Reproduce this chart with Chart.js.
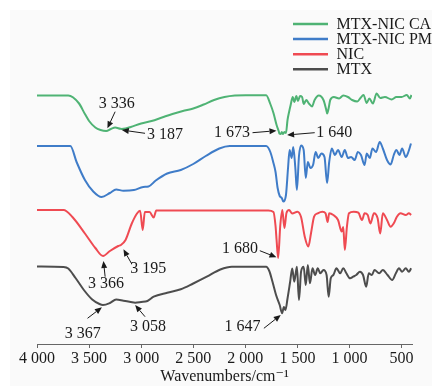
<!DOCTYPE html>
<html>
<head>
<meta charset="utf-8">
<script src="https://cdn.jsdelivr.net/npm/chart.js@4"></script>
<style>body{margin:0;background:#fff}</style>
</head>
<body>
<canvas id="myChart" width="432" height="386"></canvas>
<script>
// wavenumbers (cm-1) and offset depth (bigger = lower on chart)
let caWave = [4000,3700,3600,3540,3500,3440,3390,3336,3290,3250,3200,3187,3150,3100,3000,2900,2800,2700,2600,2500,2400,2300,2200,2100,2000,1800,1760,1730,1700,1680,1673,1660,1650,1640,1625,1610,1595,1580,1565,1545,1530,1510,1495,1475,1455,1440,1415,1390,1360,1335,1295,1250,1225,1215,1200,1185,1150,1100,1060,1015,975,925,895,865,835,810,775,740,705,660,595,550,500,450,420,405];
let caVal = [95.5,95.5,103,114,121,127.5,130,131,129,127.5,128.8,129,128.5,127,123.5,121,117.5,114,111,108.5,104.5,100,97,95.5,95.2,95.3,104,113,125,131,133.5,134,132,134,132,133,120,112,105,97,102,96,101,96,97,104,100,103.5,106.5,100,95.5,100,109,113.5,108,100,97,98.5,95.5,97,100,101.5,98,95,103,98.5,103.5,93.5,98,97,99.5,97,97,95,98.5,95];

let pmWave = [4000,3680,3620,3540,3460,3380,3300,3240,3170,3070,2980,2930,2860,2750,2620,2500,2380,2250,2150,1800,1760,1730,1710,1690,1670,1650,1635,1610,1590,1575,1555,1540,1520,1505,1485,1465,1440,1420,1400,1375,1350,1325,1300,1270,1240,1215,1195,1170,1140,1110,1075,1045,1015,985,950,920,890,855,835,805,780,745,710,680,640,605,575,550,520,495,460,435,410];
let pmVal = [146,146,162,180,191.5,197,193,189.5,190.7,190,187,186.5,180.5,173.5,170,164,156,148.5,146,146,152,163,172,188,196,198,201.5,195,168,150,158,147,168,190,156,145.5,150,178,162,168,165,152,158,153.5,157,183,162,148.5,155,150,157,150,158,157,160,152,155,165,153.5,158,148.5,152,142,148.5,160,164.5,155,150,155,148.5,157,152,143.5];

let nicWave = [4000,3745,3660,3540,3440,3366,3300,3220,3195,3150,3090,3040,3010,2985,2965,2920,2880,2855,1780,1730,1710,1700,1685,1665,1645,1625,1605,1580,1550,1500,1465,1430,1395,1370,1340,1305,1260,1230,1210,1195,1155,1110,1075,1060,1045,1025,1005,960,915,880,855,825,800,765,730,705,680,640,605,575,545,510,460,430,408];
let nicVal = [210,210,217,233.5,248,256,251,246,245,240,223.5,213.5,210.7,230,212,212,217.5,210.5,210.5,212,226,240,258,226,210,228,213,210,213.5,211.7,217,236.5,246.5,233.5,216.7,213.3,211.7,213.3,222,213.3,215,220,231.5,227,250,227,213.3,211.7,212.7,220,213.3,215,223.5,213.3,218.3,233.5,213.3,220,226.7,223.3,216.7,213.3,215,213.3,215];

let mtxWave = [4000,3745,3700,3630,3550,3470,3400,3367,3300,3240,3170,3100,3058,3000,2940,2880,2750,2620,2500,2370,2240,2130,1800,1770,1740,1705,1670,1647,1630,1615,1595,1570,1550,1530,1505,1485,1465,1440,1420,1400,1380,1355,1330,1305,1280,1250,1220,1200,1180,1155,1125,1090,1060,1030,995,965,935,900,870,840,815,785,760,715,680,635,590,555,525,495,460,430,408];
let mtxVal = [266.5,267,268.5,278,290,299.5,304,305,303,299.5,300.7,302,302.7,302,301,296.7,292.7,289.3,283.5,276.7,269.5,266.7,266.7,271,281.5,295,305,313.3,307,310,298.5,282,268.5,281.7,266.7,300,271.7,266.7,285,265,283.3,268.3,275,268.3,273.3,270,275,296.7,278.3,275,268.3,273.3,268.3,273.3,278.3,276.7,275,271.7,275,286.7,273.3,275,270,273.3,270,275,280,273.3,268.3,271.7,268.3,271.7,268.3];

let seriesNames = ["MTX-NIC CA", "MTX-NIC PM", "NIC", "MTX"];
let seriesColors = ["#4fb374", "#3f7cc8", "#ef4a52", "#4d4d4d"];
let tickValues = [4000, 3500, 3000, 2500, 2000, 1500, 1000, 500];

// peak labels: text, label point, arrow start, arrow end (wavenumber, depth)
let peakLabels = [
    ["3 336", 3234, 104, 3250, 111.7, 3324, 128.3],
    ["3 187", 2771, 135, 2963, 133.3, 3186, 130],
    ["1 673", 2129, 132.7, 1931, 132.7, 1701, 130.7],
    ["1 640", 1147, 132.7, 1334, 132.7, 1599, 135],
    ["1 680", 2052, 248.3, 1861, 250.7, 1701, 257.3],
    ["3 366", 3338, 283.3, 3346, 276.7, 3362, 261],
    ["3 195", 2931, 268.3, 3090, 264, 3170, 249.3],
    ["3 367", 3561, 333.3, 3515, 318.3, 3377, 307.3],
    ["3 058", 2934, 326.7, 2963, 316.7, 3058, 305],
    ["1 647", 2028, 326.7, 1822, 328.3, 1660, 315]
];

function toPoints(xs, ys) {
    return xs.map(function(x, i) { return {x: x, y: ys[i]}; });
}

function formatTick(value) {
    if (value >= 1000) {
        return Math.floor(value / 1000) + " " + String(value % 1000).padStart(3, "0");
    }
    return String(value);
}

let serif = "'Liberation Serif', 'DejaVu Serif', serif";

let panelPlugin = {
    id: "panel",
    beforeDraw: function(chart) {
        let c = chart.ctx;
        c.save();
        c.fillStyle = "#fafafa";
        c.fillRect(10, 10, chart.width - 10, chart.height - 10);
        c.restore();
    }
};

function drawArrow(c, x1, y1, x2, y2) {
    let ang = Math.atan2(y2 - y1, x2 - x1);
    let len = 7, half = 3;
    let bx = x2 - len * Math.cos(ang), by = y2 - len * Math.sin(ang);
    c.beginPath();
    c.moveTo(x1, y1);
    c.lineTo(bx, by);
    c.stroke();
    c.beginPath();
    c.moveTo(x2, y2);
    c.lineTo(bx + half * Math.sin(ang), by - half * Math.cos(ang));
    c.lineTo(bx - half * Math.sin(ang), by + half * Math.cos(ang));
    c.closePath();
    c.fill();
}

let notesPlugin = {
    id: "notes",
    afterDatasetsDraw: function(chart) {
        let c = chart.ctx;
        let xs = chart.scales.x, ys = chart.scales.y;
        c.save();
        c.font = "16px " + serif;
        c.fillStyle = "#1a1a1a";
        c.strokeStyle = "#1a1a1a";
        c.lineWidth = 1;
        c.textAlign = "center";
        c.textBaseline = "middle";
        peakLabels.forEach(function(p) {
            c.fillText(p[0], xs.getPixelForValue(p[1]), ys.getPixelForValue(p[2]));
            drawArrow(c, xs.getPixelForValue(p[3]), ys.getPixelForValue(p[4]),
                xs.getPixelForValue(p[5]), ys.getPixelForValue(p[6]));
        });

        // legend
        c.textAlign = "left";
        c.lineWidth = 2.5;
        seriesNames.forEach(function(name, i) {
            let y = 24 + i * 15.1;
            c.strokeStyle = seriesColors[i];
            c.beginPath();
            c.moveTo(293, y);
            c.lineTo(328, y);
            c.stroke();
            c.fillStyle = "#1a1a1a";
            c.fillText(name, 336.5, y + 0.5);
        });
        c.restore();
    }
};

let datasets = [
    toPoints(caWave, caVal),
    toPoints(pmWave, pmVal),
    toPoints(nicWave, nicVal),
    toPoints(mtxWave, mtxVal)
].map(function(pts, i) {
    return {
        label: seriesNames[i],
        data: pts,
        borderColor: seriesColors[i],
        borderWidth: 2,
        pointRadius: 0,
        cubicInterpolationMode: "monotone",
        fill: false
    };
});

let ctx = document.getElementById("myChart").getContext("2d");
let chart = new Chart(ctx, {
    type: "line",
    data: { datasets: datasets },
    options: {
        responsive: false,
        animation: false,
        layout: { padding: { left: 37, right: 20, top: 10, bottom: 0 } },
        plugins: {
            legend: { display: false },
            tooltip: { enabled: false }
        },
        scales: {
            x: {
                type: "linear",
                reverse: true,
                min: 400,
                max: 4000,
                afterBuildTicks: function(scale) {
                    scale.ticks = tickValues.map(function(v) { return {value: v}; });
                },
                afterFit: function(scale) {
                    scale.height = 42;
                },
                grid: {
                    drawOnChartArea: false,
                    drawTicks: true,
                    tickLength: 4,
                    color: "#666"
                },
                border: { display: true, color: "#666", width: 1 },
                ticks: {
                    padding: 1,
                    maxRotation: 0,
                    autoSkip: false,
                    color: "#1a1a1a",
                    font: { family: serif, size: 16 },
                    callback: formatTick
                },
                title: {
                    display: true,
                    text: "Wavenumbers/cm\u207B\u00B9",
                    color: "#1a1a1a",
                    font: { family: serif, size: 16 },
                    padding: { top: 0, bottom: 0 }
                }
            },
            y: {
                display: false,
                reverse: true,
                min: 10,
                max: 344
            }
        }
    },
    plugins: [panelPlugin, notesPlugin]
});
</script>
</body>
</html>
